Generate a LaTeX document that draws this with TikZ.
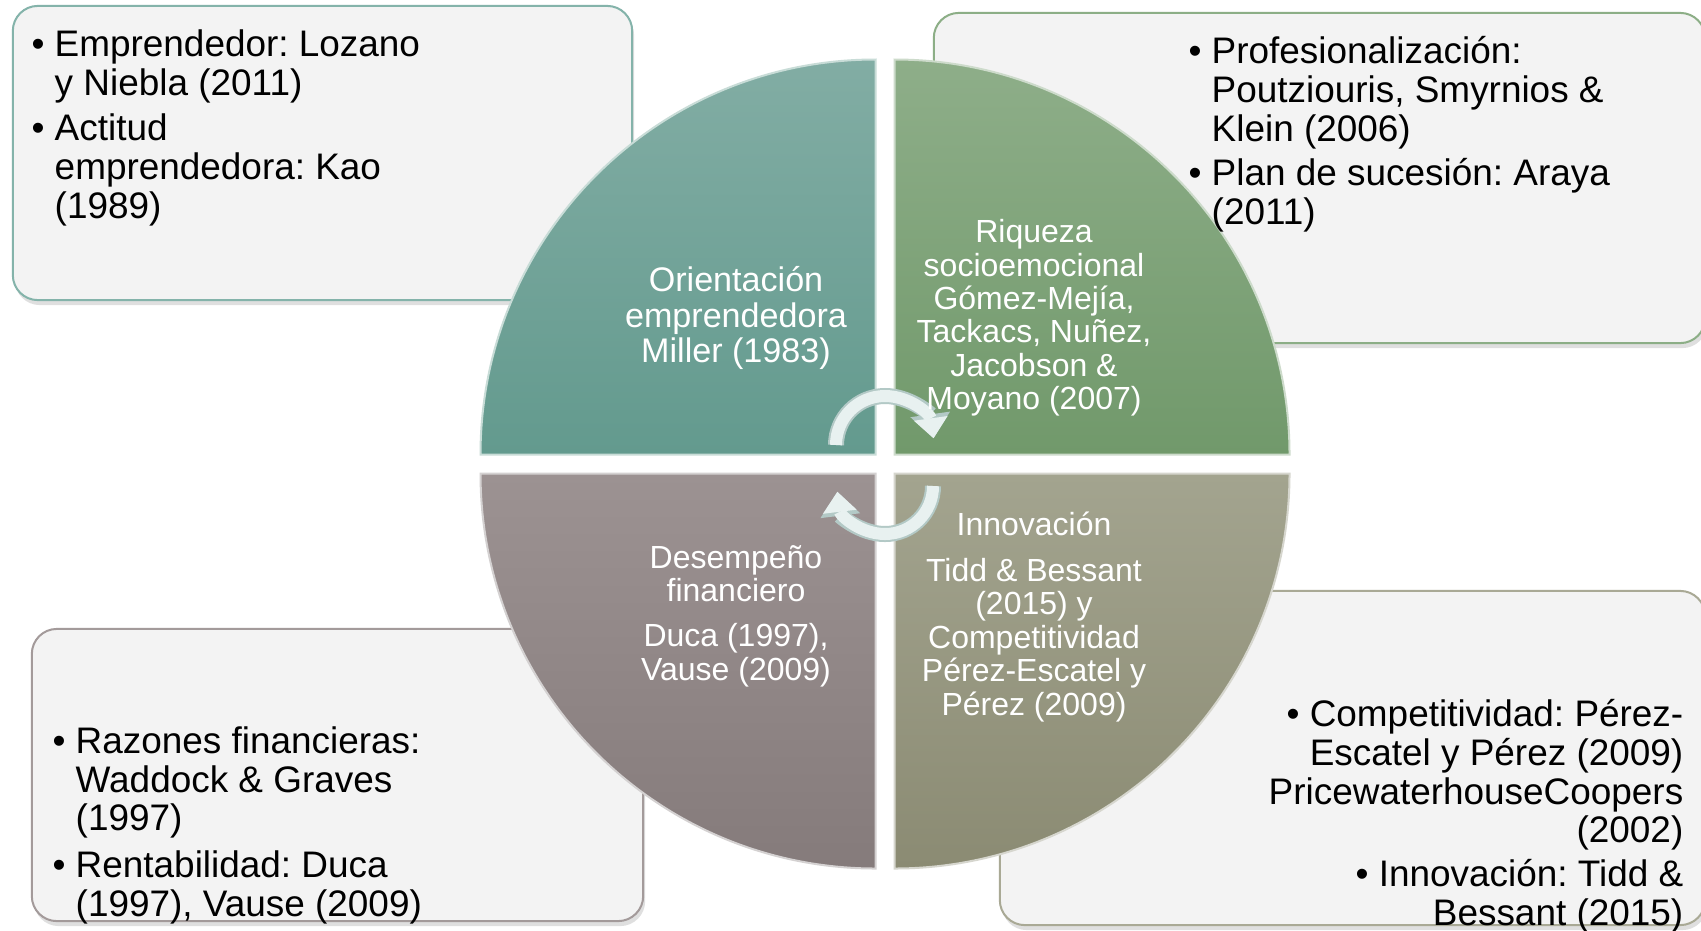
\documentclass[tikz,border=0pt]{standalone}
\usepackage{fontspec}
\setmainfont{Liberation Sans}
\usetikzlibrary{shadows,arrows.meta,calc}
\frenchspacing

\definecolor{boxfill}{HTML}{F3F3F3}
\definecolor{tealedge}{HTML}{84B3AA}
\definecolor{greenedge}{HTML}{8CAE86}
\definecolor{mauveedge}{HTML}{A39A9A}
\definecolor{oliveedge}{HTML}{A9A995}
\definecolor{tealtop}{HTML}{82ADA4}
\definecolor{tealbot}{HTML}{639A8E}
\definecolor{greentop}{HTML}{8EAE89}
\definecolor{greenbot}{HTML}{71996B}
\definecolor{mauvetop}{HTML}{9C9292}
\definecolor{mauvebot}{HTML}{857B7B}
\definecolor{olivetop}{HTML}{A3A48F}
\definecolor{olivebot}{HTML}{8B8B73}
\definecolor{arrfill}{HTML}{E8F1F0}
\definecolor{arredge}{HTML}{B3C9C6}

\newcommand{\itembul}{\makebox[0.23cm][l]{\textbullet}}
\newcommand{\itemind}{\hspace*{0.23cm}}

\tikzset{
  refbox/.style={draw=#1, line width=0.02cm, fill=boxfill, rounded corners=0.25cm,
    drop shadow={shadow xshift=0.02cm,shadow yshift=-0.05cm,opacity=0.25}},
  reftext/.style={inner sep=0pt, font=\fontsize{10.5}{11}\selectfont}
}

\begin{document}
\begin{tikzpicture}[x=0.01cm,y=-0.01cm,
  quad/.style 2 args={draw=white!65!#2, line width=0.02cm, top color=#1, bottom color=#2},
  qtext/.style={text=white, align=center, inner sep=0pt, font=\fontsize{9.1}{9.5}\selectfont},
  cyc/.style={line width=0.12cm, draw=arrfill, -{Triangle[length=0.2cm,width=0.34cm,line width=0pt]}},
  cycedge/.style={line width=0.16cm, draw=arredge, -{Triangle[length=0.24cm,width=0.40cm,line width=0pt]}}]
  \path[use as bounding box, fill=white] (0,0) rectangle (1701,930);

  \node[refbox=tealedge, minimum width=6.19cm, minimum height=2.94cm] (entbox) at (322.5,153) {};
  \node[refbox=greenedge, minimum width=7.71cm, minimum height=3.30cm] (profbox) at (1319.5,178) {};
  \node[refbox=mauveedge, minimum width=6.11cm, minimum height=2.92cm] (finbox) at (337.5,775) {};
  \node[refbox=oliveedge, minimum width=7.05cm, minimum height=3.34cm] (compbox) at (1352.5,758) {};

  \coordinate (ctr) at (885,464);
  \coordinate (tlc) at ($(ctr)+(-9.5,-9.5)$);
  \coordinate (trc) at ($(ctr)+(9.5,-9.5)$);
  \coordinate (brc) at ($(ctr)+(9.5,9.5)$);
  \coordinate (blc) at ($(ctr)+(-9.5,9.5)$);

  \draw[quad={tealtop}{tealbot}] (tlc) -- +(-395,0) arc[start angle=180,end angle=270,radius=395] -- cycle;
  \draw[quad={greentop}{greenbot}] (trc) -- +(0,-395) arc[start angle=270,end angle=360,radius=395] -- cycle;
  \draw[quad={olivetop}{olivebot}] (brc) -- +(395,0) arc[start angle=0,end angle=90,radius=395] -- cycle;
  \draw[quad={mauvetop}{mauvebot}] (blc) -- +(0,395) arc[start angle=90,end angle=180,radius=395] -- cycle;

  \coordinate (topc) at (885,445);
  \coordinate (botc) at (885,486);
  \draw[cycedge] ($(topc)+(-49,0)$) arc[start angle=180,end angle=352,radius=49];
  \draw[cyc] ($(topc)+(-49,0)$) arc[start angle=180,end angle=352,radius=49];
  \draw[cycedge] ($(botc)+(48,0)$) arc[start angle=0,end angle=173,radius=48];
  \draw[cyc] ($(botc)+(48,0)$) arc[start angle=0,end angle=173,radius=48];

  \node[qtext, font=\fontsize{9.7}{10.2}\selectfont] (orient) at (736,318) {Orientación\\ emprendedora\\ Miller (1983)};
  \node[qtext] (riqueza) at (1034,318) {Riqueza\\ socioemocional\\ Gómez-Mejía,\\ Tackacs, Nuñez,\\ Jacobson \&\\ Moyano (2007)};
  \node[qtext] (desemp) at (736,616) {Desempeño\\ financiero\\[0.12cm] Duca (1997),\\ Vause (2009)};
  \node[qtext] (innov) at (1034,617) {Innovación\\[0.12cm] Tidd \& Bessant\\ (2015) y\\ Competitividad\\ Pérez-Escatel y\\ Pérez (2009)};

  \node[reftext, anchor=north west, align=left] (enttext) at (31,29) {\itembul Emprendedor: Lozano\\ \itemind y Niebla (2011)\\[0.07cm] \itembul Actitud\\ \itemind emprendedora: Kao\\ \itemind (1989)};
  \node[reftext, anchor=north west, align=left] (proftext) at (1188,36) {\itembul Profesionalización:\\ \itemind Poutziouris, Smyrnios \&\\ \itemind Klein (2006)\\[0.055cm] \itembul Plan de sucesión: Araya\\ \itemind (2011)};
  \node[reftext, anchor=north west, align=left] (fintext) at (52,726) {\itembul Razones financieras:\\ \itemind Waddock \& Graves\\ \itemind (1997)\\[0.08cm] \itembul Rentabilidad: Duca\\ \itemind (1997), Vause (2009)};
  \node[reftext, anchor=north east, align=right] (comptext) at (1684,699) {\textbullet\ Competitividad: Pérez-\\ Escatel y Pérez (2009)\\ PricewaterhouseCoopers\\ (2002)\\[0.05cm] \textbullet\ Innovación: Tidd \&\\ Bessant (2015)};
\end{tikzpicture}
\end{document}
